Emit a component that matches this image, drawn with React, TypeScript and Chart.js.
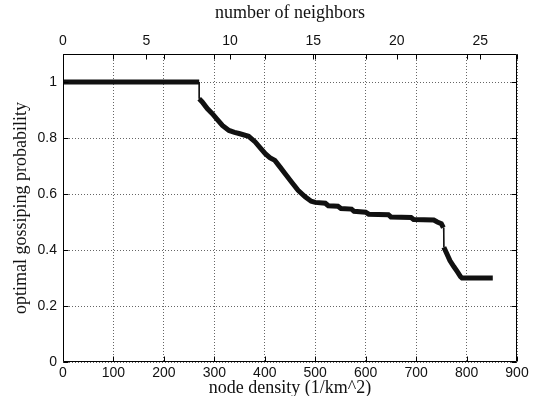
import React, { useEffect, useRef } from "react";
import { Chart, registerables } from "chart.js";

Chart.register(...registerables);

// node density (1/km^2)
const DENSITY = [
  0, 270, 270, 276, 286, 296, 306, 316, 329, 340, 349, 368, 381, 391, 401, 410,
  420, 430, 440, 453, 466, 480, 492, 500, 520, 526, 545, 551, 572, 577, 600, 606,
  645, 650, 690, 695, 735, 742, 750, 754, 755, 760, 767, 775, 782, 788, 791, 852,
];
// optimal gossiping probability
const PROB = [
  1, 1, 0.94, 0.929, 0.905, 0.887, 0.866, 0.845, 0.827, 0.82, 0.816, 0.806, 0.786,
  0.765, 0.744, 0.73, 0.72, 0.697, 0.673, 0.643, 0.613, 0.59, 0.574, 0.57, 0.567,
  0.558, 0.556, 0.548, 0.546, 0.538, 0.535, 0.528, 0.526, 0.518, 0.516, 0.509,
  0.507, 0.5, 0.494, 0.48, 0.41, 0.39, 0.362, 0.34, 0.322, 0.305, 0.3, 0.3,
];

const X_TICKS = [0, 100, 200, 300, 400, 500, 600, 700, 800, 900];
const Y_TICKS = [0, 0.2, 0.4, 0.6, 0.8, 1];
const NB_TICKS = [0, 5, 10, 15, 20, 25];
const X_MAX = 900;
const Y_MAX = 1.1;
const NB_MAX = 27.2;

const TICK_FONT = { family: "'Liberation Sans', Arial, sans-serif", size: 14 };
const TITLE_FONT = { family: "'Liberation Serif', 'Times New Roman', serif", size: 18 };

export default function App() {
  const ref = useRef<HTMLCanvasElement | null>(null);

  useEffect(() => {
    if (!ref.current) return;
    const boxPlugin = {
      id: "box",
      afterDatasetsDraw(chart: any) {
        const { ctx, chartArea: a, scales } = chart;
        const L = 5;
        ctx.save();
        ctx.strokeStyle = "#000";
        ctx.lineWidth = 1;
        ctx.beginPath();
        const al = Math.round(a.left) + 0.5;
        const ar = Math.round(a.right) - 0.5;
        const at = Math.round(a.top) + 0.5;
        const ab = Math.round(a.bottom) - 0.5;
        ctx.rect(al, at, ar - al, ab - at);
        for (const v of X_TICKS) {
          const x = Math.round(scales.x.getPixelForValue(v)) + 0.5;
          ctx.moveTo(x, ab);
          ctx.lineTo(x, ab - L);
          ctx.moveTo(x, at);
          ctx.lineTo(x, at + L);
        }
        for (const v of NB_TICKS) {
          const x = Math.round(scales.x2.getPixelForValue(v)) + 0.5;
          ctx.moveTo(x, at);
          ctx.lineTo(x, at + L);
        }
        for (const v of Y_TICKS) {
          const y = Math.round(scales.y.getPixelForValue(v)) + 0.5;
          ctx.moveTo(al, y);
          ctx.lineTo(al + L, y);
          ctx.moveTo(ar, y);
          ctx.lineTo(ar - L, y);
        }
        ctx.stroke();
        ctx.restore();
      },
    };

    const chart = new Chart(ref.current, {
      type: "line",
      data: {
        datasets: [
          {
            data: DENSITY.map((x, i) => ({ x, y: PROB[i] })),
            borderColor: "#111",
            borderWidth: 5,
            pointRadius: 0,
            tension: 0,
            segment: {
              borderWidth: (c: any) =>
                Math.abs(c.p1.parsed.x - c.p0.parsed.x) < 2 &&
                Math.abs(c.p1.parsed.y - c.p0.parsed.y) > 0.04
                  ? 1
                  : undefined,
            },
          },
        ],
      },
      options: {
        responsive: false,
        animation: false,
        layout: { padding: { left: 0, right: 16, top: 0, bottom: 0 } },
        plugins: { legend: { display: false }, tooltip: { enabled: false } },
        scales: {
          x: {
            type: "linear",
            position: "bottom",
            min: 0,
            max: X_MAX,
            afterBuildTicks: (s: any) => {
              s.ticks = X_TICKS.map((v) => ({ value: v }));
            },
            afterFit: (s: any) => {
              s.height = 34;
            },
            grid: { color: "rgba(0,0,0,0.6)", drawTicks: false, lineWidth: 1 },
            border: { display: false, dash: [1, 2] },
            ticks: { font: TICK_FONT, color: "#111", padding: 3, maxRotation: 0, autoSkip: false },
            title: {
              display: true,
              text: "node density (1/km^2)",
              font: TITLE_FONT,
              color: "#111",
              padding: { top: 0, bottom: -3 },
            },
          },
          x2: {
            type: "linear",
            position: "top",
            min: 0,
            max: NB_MAX,
            afterBuildTicks: (s: any) => {
              s.ticks = NB_TICKS.map((v) => ({ value: v }));
            },
            afterFit: (s: any) => {
              s.height = 54;
            },
            grid: { display: false, drawTicks: false },
            border: { display: false },
            ticks: { font: TICK_FONT, color: "#111", padding: 4, maxRotation: 0, autoSkip: false },
            title: {
              display: true,
              text: "number of neighbors",
              font: TITLE_FONT,
              color: "#111",
              padding: { top: 2, bottom: 0 },
            },
          },
          y: {
            type: "linear",
            min: 0,
            max: Y_MAX,
            afterBuildTicks: (s: any) => {
              s.ticks = Y_TICKS.map((v) => ({ value: v }));
            },
            afterFit: (s: any) => {
              s.width = 63;
            },
            grid: { color: "rgba(0,0,0,0.6)", drawTicks: false, lineWidth: 1 },
            border: { display: false, dash: [1, 2] },
            ticks: {
              font: TICK_FONT,
              color: "#111",
              padding: 6,
              callback: (v: any) => String(v),
            },
            title: {
              display: true,
              text: "optimal gossiping probability",
              font: TITLE_FONT,
              color: "#111",
              padding: { top: 10, bottom: 0 },
            },
          },
        },
      },
      plugins: [boxPlugin],
    } as any);
    return () => chart.destroy();
  }, []);

  return (
    <div style={{ position: "fixed", left: 0, top: 0, width: 533, height: 396, background: "#fff" }}>
      <canvas ref={ref} width={533} height={396} />
    </div>
  );
}
